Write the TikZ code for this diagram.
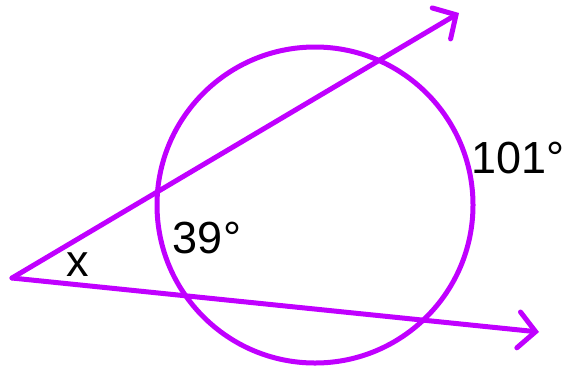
\documentclass[tikz,border=0pt]{standalone}
\usepackage{fontspec}
\setmainfont{Liberation Sans}
\usepackage{xcolor}
\usetikzlibrary{arrows.meta}

\definecolor{secantviolet}{RGB}{192,0,255}

\begin{document}
\begin{tikzpicture}[
    x=1bp, y=-1bp,
    >={Straight Barb[length=17bp,width=36bp,line cap=round]},
    secant/.style  = {draw=secantviolet, line width=5bp, line cap=round},
    ring/.style    = {circle, draw=secantviolet, line width=5bp,
                      minimum size=316bp, inner sep=0pt},
    anglabel/.style= {font=\fontsize{45bp}{54bp}\selectfont, text=black,
                      inner sep=0pt},
]
\useasboundingbox (0,0) rectangle (569,369);

\node[ring] (circ) at (315,205) {};

\coordinate (vertex) at (12,278);
\coordinate (tipA)   at (459,13);
\coordinate (tipB)   at (539,332);

\draw[secant, ->] (vertex) -- (tipA);
\draw[secant, ->] (vertex) -- (tipB);

\node[anglabel] (angx)   at (78,265)  {x};
\node[anglabel] (arcin)  at (207,238) {39°};
\node[anglabel] (arcout) at (518,158) {101°};

\end{tikzpicture}
\end{document}
